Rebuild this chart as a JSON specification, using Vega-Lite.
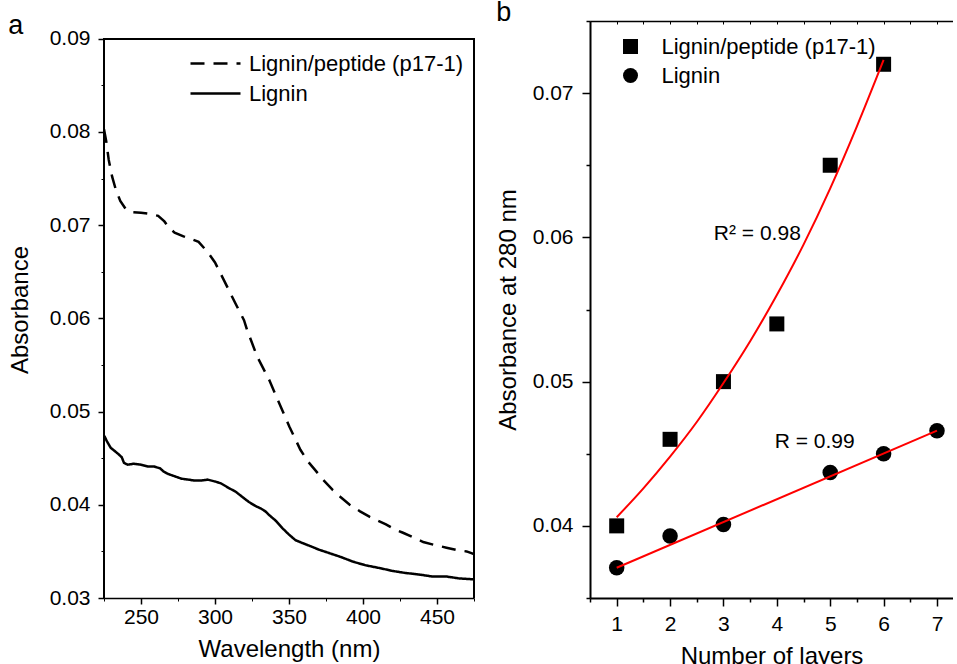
{
  "$schema": "https://vega.github.io/schema/vega-lite/v6.json",
  "padding": {"left": 8, "top": -1, "right": 0, "bottom": -4},
  "background": "white",
  "spacing": 21,
  "bounds": "full",
  "resolve": {
    "scale": {"shape": "independent", "strokeDash": "independent"},
    "legend": {"shape": "independent", "strokeDash": "independent"}
  },
  "config": {
    "font": "Liberation Sans",
    "view": {"stroke": null},
    "axis": {
      "labelFont": "Liberation Sans", "titleFont": "Liberation Sans",
      "labelColor": "black", "titleColor": "black",
      "domainColor": "black", "tickColor": "black",
      "grid": false, "titleFontWeight": "normal",
      "labelFontSize": 21, "titleFontSize": 24,
      "labelFlush": false, "labelOverlap": false
    },
    "legend": {
      "labelFont": "Liberation Sans", "labelColor": "black", "labelFontSize": 22,
      "labelLimit": 500, "padding": 0, "rowPadding": 7
    },
    "title": {"font": "Liberation Sans", "fontWeight": "normal", "fontSize": 27, "color": "black", "anchor": "start", "frame": "bounds"}
  },
  "datasets": {
    "spectra": [
      {"wavelength": 225, "absorbance": 0.0803, "sample": "Lignin/peptide (p17-1)"},
      {"wavelength": 226.5, "absorbance": 0.0790, "sample": "Lignin/peptide (p17-1)"},
      {"wavelength": 228.2, "absorbance": 0.0770, "sample": "Lignin/peptide (p17-1)"},
      {"wavelength": 230.5, "absorbance": 0.0752, "sample": "Lignin/peptide (p17-1)"},
      {"wavelength": 233, "absorbance": 0.0738, "sample": "Lignin/peptide (p17-1)"},
      {"wavelength": 236, "absorbance": 0.0726, "sample": "Lignin/peptide (p17-1)"},
      {"wavelength": 239.8, "absorbance": 0.0717, "sample": "Lignin/peptide (p17-1)"},
      {"wavelength": 244, "absorbance": 0.0714, "sample": "Lignin/peptide (p17-1)"},
      {"wavelength": 250, "absorbance": 0.07133, "sample": "Lignin/peptide (p17-1)"},
      {"wavelength": 256, "absorbance": 0.0712, "sample": "Lignin/peptide (p17-1)"},
      {"wavelength": 261.6, "absorbance": 0.0710, "sample": "Lignin/peptide (p17-1)"},
      {"wavelength": 265.8, "absorbance": 0.0704, "sample": "Lignin/peptide (p17-1)"},
      {"wavelength": 269, "absorbance": 0.0697, "sample": "Lignin/peptide (p17-1)"},
      {"wavelength": 272.7, "absorbance": 0.0692, "sample": "Lignin/peptide (p17-1)"},
      {"wavelength": 278.7, "absorbance": 0.0688, "sample": "Lignin/peptide (p17-1)"},
      {"wavelength": 284, "absorbance": 0.0685, "sample": "Lignin/peptide (p17-1)"},
      {"wavelength": 288.9, "absorbance": 0.0682, "sample": "Lignin/peptide (p17-1)"},
      {"wavelength": 292.3, "absorbance": 0.0676, "sample": "Lignin/peptide (p17-1)"},
      {"wavelength": 296, "absorbance": 0.0669, "sample": "Lignin/peptide (p17-1)"},
      {"wavelength": 300, "absorbance": 0.0660, "sample": "Lignin/peptide (p17-1)"},
      {"wavelength": 306, "absorbance": 0.0641, "sample": "Lignin/peptide (p17-1)"},
      {"wavelength": 313.5, "absorbance": 0.0617, "sample": "Lignin/peptide (p17-1)"},
      {"wavelength": 319.6, "absorbance": 0.0598, "sample": "Lignin/peptide (p17-1)"},
      {"wavelength": 321.6, "absorbance": 0.0588, "sample": "Lignin/peptide (p17-1)"},
      {"wavelength": 328.5, "absorbance": 0.0559, "sample": "Lignin/peptide (p17-1)"},
      {"wavelength": 336.6, "absorbance": 0.0534, "sample": "Lignin/peptide (p17-1)"},
      {"wavelength": 343.4, "absorbance": 0.0509, "sample": "Lignin/peptide (p17-1)"},
      {"wavelength": 350.2, "absorbance": 0.0484, "sample": "Lignin/peptide (p17-1)"},
      {"wavelength": 357.7, "absorbance": 0.0459, "sample": "Lignin/peptide (p17-1)"},
      {"wavelength": 363, "absorbance": 0.0446, "sample": "Lignin/peptide (p17-1)"},
      {"wavelength": 367.3, "absorbance": 0.0438, "sample": "Lignin/peptide (p17-1)"},
      {"wavelength": 373, "absorbance": 0.0427, "sample": "Lignin/peptide (p17-1)"},
      {"wavelength": 379.5, "absorbance": 0.0416, "sample": "Lignin/peptide (p17-1)"},
      {"wavelength": 385, "absorbance": 0.0408, "sample": "Lignin/peptide (p17-1)"},
      {"wavelength": 391, "absorbance": 0.0400, "sample": "Lignin/peptide (p17-1)"},
      {"wavelength": 398, "absorbance": 0.0393, "sample": "Lignin/peptide (p17-1)"},
      {"wavelength": 404.6, "absorbance": 0.0387, "sample": "Lignin/peptide (p17-1)"},
      {"wavelength": 410, "absorbance": 0.0383, "sample": "Lignin/peptide (p17-1)"},
      {"wavelength": 415.5, "absorbance": 0.0379, "sample": "Lignin/peptide (p17-1)"},
      {"wavelength": 421, "absorbance": 0.0374, "sample": "Lignin/peptide (p17-1)"},
      {"wavelength": 427, "absorbance": 0.0370, "sample": "Lignin/peptide (p17-1)"},
      {"wavelength": 434, "absorbance": 0.0365, "sample": "Lignin/peptide (p17-1)"},
      {"wavelength": 440.7, "absorbance": 0.0360, "sample": "Lignin/peptide (p17-1)"},
      {"wavelength": 448, "absorbance": 0.0357, "sample": "Lignin/peptide (p17-1)"},
      {"wavelength": 456.4, "absorbance": 0.0354, "sample": "Lignin/peptide (p17-1)"},
      {"wavelength": 465, "absorbance": 0.0351, "sample": "Lignin/peptide (p17-1)"},
      {"wavelength": 470, "absorbance": 0.0350, "sample": "Lignin/peptide (p17-1)"},
      {"wavelength": 475, "absorbance": 0.0347, "sample": "Lignin/peptide (p17-1)"},
      {"wavelength": 225, "absorbance": 0.0474, "sample": "Lignin"},
      {"wavelength": 225.5, "absorbance": 0.0473, "sample": "Lignin"},
      {"wavelength": 227, "absorbance": 0.0468, "sample": "Lignin"},
      {"wavelength": 229.6, "absorbance": 0.0461, "sample": "Lignin"},
      {"wavelength": 232, "absorbance": 0.0458, "sample": "Lignin"},
      {"wavelength": 235, "absorbance": 0.0454, "sample": "Lignin"},
      {"wavelength": 237, "absorbance": 0.0451, "sample": "Lignin"},
      {"wavelength": 238.5, "absorbance": 0.0445, "sample": "Lignin"},
      {"wavelength": 241, "absorbance": 0.0443, "sample": "Lignin"},
      {"wavelength": 245, "absorbance": 0.0444, "sample": "Lignin"},
      {"wavelength": 250, "absorbance": 0.0443, "sample": "Lignin"},
      {"wavelength": 255, "absorbance": 0.0441, "sample": "Lignin"},
      {"wavelength": 259, "absorbance": 0.0441, "sample": "Lignin"},
      {"wavelength": 263, "absorbance": 0.0439, "sample": "Lignin"},
      {"wavelength": 265, "absorbance": 0.0436, "sample": "Lignin"},
      {"wavelength": 268.4, "absorbance": 0.0433, "sample": "Lignin"},
      {"wavelength": 272, "absorbance": 0.0431, "sample": "Lignin"},
      {"wavelength": 277.3, "absorbance": 0.0428, "sample": "Lignin"},
      {"wavelength": 282, "absorbance": 0.0427, "sample": "Lignin"},
      {"wavelength": 286, "absorbance": 0.0426, "sample": "Lignin"},
      {"wavelength": 290.9, "absorbance": 0.0426, "sample": "Lignin"},
      {"wavelength": 295, "absorbance": 0.0427, "sample": "Lignin"},
      {"wavelength": 300, "absorbance": 0.0425, "sample": "Lignin"},
      {"wavelength": 304, "absorbance": 0.0423, "sample": "Lignin"},
      {"wavelength": 309.3, "absorbance": 0.0418, "sample": "Lignin"},
      {"wavelength": 314, "absorbance": 0.0414, "sample": "Lignin"},
      {"wavelength": 318, "absorbance": 0.0409, "sample": "Lignin"},
      {"wavelength": 322.9, "absorbance": 0.0403, "sample": "Lignin"},
      {"wavelength": 327, "absorbance": 0.0399, "sample": "Lignin"},
      {"wavelength": 331, "absorbance": 0.0396, "sample": "Lignin"},
      {"wavelength": 334, "absorbance": 0.0393, "sample": "Lignin"},
      {"wavelength": 336.6, "absorbance": 0.0389, "sample": "Lignin"},
      {"wavelength": 341, "absorbance": 0.0383, "sample": "Lignin"},
      {"wavelength": 345.5, "absorbance": 0.0375, "sample": "Lignin"},
      {"wavelength": 350, "absorbance": 0.0368, "sample": "Lignin"},
      {"wavelength": 354.4, "absorbance": 0.0362, "sample": "Lignin"},
      {"wavelength": 359, "absorbance": 0.0359, "sample": "Lignin"},
      {"wavelength": 363.9, "absorbance": 0.0356, "sample": "Lignin"},
      {"wavelength": 370, "absorbance": 0.0352, "sample": "Lignin"},
      {"wavelength": 377.5, "absorbance": 0.0348, "sample": "Lignin"},
      {"wavelength": 385, "absorbance": 0.0344, "sample": "Lignin"},
      {"wavelength": 393.2, "absorbance": 0.0339, "sample": "Lignin"},
      {"wavelength": 402, "absorbance": 0.0335, "sample": "Lignin"},
      {"wavelength": 411.6, "absorbance": 0.0332, "sample": "Lignin"},
      {"wavelength": 420, "absorbance": 0.0329, "sample": "Lignin"},
      {"wavelength": 428, "absorbance": 0.0327, "sample": "Lignin"},
      {"wavelength": 438.8, "absorbance": 0.0325, "sample": "Lignin"},
      {"wavelength": 447, "absorbance": 0.0323, "sample": "Lignin"},
      {"wavelength": 456.5, "absorbance": 0.0323, "sample": "Lignin"},
      {"wavelength": 465, "absorbance": 0.0321, "sample": "Lignin"},
      {"wavelength": 474.8, "absorbance": 0.0320, "sample": "Lignin"}
    ],
    "layerPoints": [
      {"layers": 1, "absorbance": 0.0400, "sample": "Lignin/peptide (p17-1)"},
      {"layers": 2, "absorbance": 0.0460, "sample": "Lignin/peptide (p17-1)"},
      {"layers": 3, "absorbance": 0.0500, "sample": "Lignin/peptide (p17-1)"},
      {"layers": 4, "absorbance": 0.0540, "sample": "Lignin/peptide (p17-1)"},
      {"layers": 5, "absorbance": 0.0650, "sample": "Lignin/peptide (p17-1)"},
      {"layers": 6, "absorbance": 0.0720, "sample": "Lignin/peptide (p17-1)"},
      {"layers": 1, "absorbance": 0.0371, "sample": "Lignin"},
      {"layers": 2, "absorbance": 0.0393, "sample": "Lignin"},
      {"layers": 3, "absorbance": 0.0401, "sample": "Lignin"},
      {"layers": 5, "absorbance": 0.0437, "sample": "Lignin"},
      {"layers": 6, "absorbance": 0.0450, "sample": "Lignin"},
      {"layers": 7, "absorbance": 0.0466, "sample": "Lignin"}
    ],
    "fits": [
      {"layers": 1.0, "absorbance": 0.0406, "fit": "exponential"},
      {"layers": 1.5, "absorbance": 0.0426, "fit": "exponential"},
      {"layers": 2.0, "absorbance": 0.0448, "fit": "exponential"},
      {"layers": 2.5, "absorbance": 0.0472, "fit": "exponential"},
      {"layers": 3.0, "absorbance": 0.0499, "fit": "exponential"},
      {"layers": 3.5, "absorbance": 0.0528, "fit": "exponential"},
      {"layers": 4.0, "absorbance": 0.0560, "fit": "exponential"},
      {"layers": 4.5, "absorbance": 0.0595, "fit": "exponential"},
      {"layers": 5.0, "absorbance": 0.0634, "fit": "exponential"},
      {"layers": 5.5, "absorbance": 0.0677, "fit": "exponential"},
      {"layers": 6.0, "absorbance": 0.0723, "fit": "exponential"},
      {"layers": 1.0, "absorbance": 0.0371, "fit": "linear"},
      {"layers": 7.0, "absorbance": 0.0466, "fit": "linear"}
    ],
    "notes": [
      {"layers": 2.82, "absorbance": 0.0602, "label": "R² = 0.98"},
      {"layers": 3.96, "absorbance": 0.0458, "label": "R = 0.99"}
    ]
  },
  "hconcat": [
    {
      "width": 370,
      "height": 577,
      "title": {"text": "a", "offset": -19},
      "data": {"name": "spectra"},
      "layer": [
        {
          "transform": [{"filter": "datum.sample === 'Lignin/peptide (p17-1)'"}],
          "mark": {"type": "line", "color": "black", "strokeWidth": 2.5, "clip": true},
          "encoding": {
            "x": {"field": "wavelength", "type": "quantitative",
                  "scale": {"domain": [225, 475], "nice": false, "zero": false},
                  "axis": {"orient": "bottom", "values": [250, 300, 350, 400, 450], "tickSize": 6, "tickWidth": 1.5, "domainWidth": 1.5, "labelPadding": 2, "title": "Wavelength (nm)", "titlePadding": 10}},
            "y": {"field": "absorbance", "type": "quantitative",
                  "scale": {"domain": [0.03, 0.0919], "nice": false, "zero": false},
                  "axis": {"orient": "left", "values": [0.03, 0.04, 0.05, 0.06, 0.07, 0.08, 0.09], "format": ".2f", "tickSize": 6, "tickWidth": 1.5, "domain": false, "labelPadding": 8, "title": "Absorbance", "titlePadding": 17}},
            "strokeDash": {"datum": "Lignin/peptide (p17-1)",
                  "scale": {"domain": ["Lignin/peptide (p17-1)", "Lignin"], "range": [[14, 9], [1, 0]]},
                  "legend": {"orient": "none", "legendX": 100, "legendY": 31, "title": null, "symbolType": "M-2.5,0H2.5", "symbolSize": 400, "symbolStrokeWidth": 2.5, "symbolStrokeColor": "black", "symbolFillColor": "transparent", "labelOffset": 22}}
          }
        },
        {
          "transform": [{"filter": "datum.sample === 'Lignin'"}],
          "mark": {"type": "line", "color": "black", "strokeWidth": 2.5, "clip": true},
          "encoding": {
            "x": {"field": "wavelength", "type": "quantitative",
                  "scale": {"domain": [225, 475], "nice": false, "zero": false},
                  "axis": {"orient": "bottom", "values": [225, 250, 275, 300, 325, 350, 375, 400, 425, 450, 475], "tickSize": 3, "tickWidth": 1, "labels": false, "domain": false, "title": null}},
            "y": {"field": "absorbance", "type": "quantitative",
                  "scale": {"domain": [0.03, 0.0919], "nice": false, "zero": false},
                  "axis": {"orient": "left", "values": [0.03, 0.035, 0.04, 0.045, 0.05, 0.055, 0.06, 0.065, 0.07, 0.075, 0.08, 0.085, 0.09], "tickSize": 3, "tickWidth": 1, "labels": false, "domain": false, "title": null}},
            "strokeDash": {"datum": "Lignin",
                  "scale": {"domain": ["Lignin/peptide (p17-1)", "Lignin"], "range": [[14, 9], [1, 0]]},
                  "legend": {"orient": "none", "legendX": 100, "legendY": 31, "title": null, "symbolType": "M-2.5,0H2.5", "symbolSize": 400, "symbolStrokeWidth": 2.5, "symbolStrokeColor": "black", "symbolFillColor": "transparent", "labelOffset": 22}}
          }
        },
        {
          "mark": {"type": "rule", "color": "black", "strokeWidth": 1.5},
          "encoding": {
            "x": {"datum": 225, "type": "quantitative", "scale": {"domain": [225, 475], "nice": false, "zero": false}, "axis": null},
            "y": {"datum": 0.03, "type": "quantitative", "scale": {"domain": [0.03, 0.0919], "nice": false, "zero": false}, "axis": null},
            "y2": {"datum": 0.09}
          }
        },
        {
          "mark": {"type": "rule", "color": "black", "strokeWidth": 1.5},
          "encoding": {
            "x": {"datum": 475, "type": "quantitative", "scale": {"domain": [225, 475], "nice": false, "zero": false}, "axis": null},
            "y": {"datum": 0.03, "type": "quantitative", "scale": {"domain": [0.03, 0.0919], "nice": false, "zero": false}, "axis": null},
            "y2": {"datum": 0.09}
          }
        },
        {
          "mark": {"type": "rule", "color": "black", "strokeWidth": 1.5},
          "encoding": {
            "x": {"datum": 225, "type": "quantitative", "scale": {"domain": [225, 475], "nice": false, "zero": false}, "axis": null},
            "x2": {"datum": 475},
            "y": {"datum": 0.09, "type": "quantitative", "scale": {"domain": [0.03, 0.0919], "nice": false, "zero": false}, "axis": null}
          }
        }
      ],
      "resolve": {"axis": {"x": "independent", "y": "independent"}}
    },
    {
      "width": 363,
      "height": 577,
      "title": {"text": "b", "offset": -7},
      "layer": [
        {
          "data": {"name": "layerPoints"},
          "transform": [{"filter": "datum.sample === 'Lignin/peptide (p17-1)'"}],
          "mark": {"type": "point", "filled": true, "color": "black", "opacity": 1, "size": 225},
          "encoding": {
            "x": {"field": "layers", "type": "quantitative",
                  "scale": {"domain": [0.5, 7.3], "nice": false, "zero": false},
                  "axis": {"orient": "bottom", "values": [1, 2, 3, 4, 5, 6, 7], "tickSize": 8, "tickWidth": 1.5, "domainWidth": 2, "labelPadding": 7, "title": "Number of layers", "titlePadding": 10}},
            "y": {"field": "absorbance", "type": "quantitative",
                  "scale": {"domain": [0.035, 0.075], "nice": false, "zero": false},
                  "axis": {"orient": "left", "values": [0.04, 0.05, 0.06, 0.07], "format": ".2f", "tickSize": 8, "tickWidth": 1.5, "domainWidth": 2, "labelPadding": 9, "title": "Absorbance at 280 nm", "titlePadding": 12}},
            "shape": {"datum": "Lignin/peptide (p17-1)",
                  "scale": {"domain": ["Lignin/peptide (p17-1)", "Lignin"], "range": ["square", "circle"]},
                  "legend": {"orient": "none", "legendX": 29.5, "legendY": 14.5, "title": null, "symbolSize": 225, "symbolFillColor": "black", "symbolStrokeColor": "black", "symbolStrokeWidth": 0, "labelOffset": 20}}
          }
        },
        {
          "data": {"name": "layerPoints"},
          "transform": [{"filter": "datum.sample === 'Lignin'"}],
          "mark": {"type": "point", "filled": true, "color": "black", "opacity": 1, "size": 240},
          "encoding": {
            "x": {"field": "layers", "type": "quantitative",
                  "scale": {"domain": [0.5, 7.3], "nice": false, "zero": false},
                  "axis": {"orient": "bottom", "values": [0.5, 1.5, 2.5, 3.5, 4.5, 5.5, 6.5], "tickSize": 4, "tickWidth": 1.5, "labels": false, "domain": false, "title": null}},
            "y": {"field": "absorbance", "type": "quantitative",
                  "scale": {"domain": [0.035, 0.075], "nice": false, "zero": false},
                  "axis": {"orient": "left", "values": [0.035, 0.045, 0.055, 0.065, 0.075], "tickSize": 4, "tickWidth": 1.5, "labels": false, "domain": false, "title": null}},
            "shape": {"datum": "Lignin",
                  "scale": {"domain": ["Lignin/peptide (p17-1)", "Lignin"], "range": ["square", "circle"]},
                  "legend": {"orient": "none", "legendX": 29.5, "legendY": 14.5, "title": null, "symbolSize": 225, "symbolFillColor": "black", "symbolStrokeColor": "black", "symbolStrokeWidth": 0, "labelOffset": 20}}
          }
        },
        {
          "data": {"name": "fits"},
          "transform": [{"filter": "datum.fit === 'exponential'"}],
          "mark": {"type": "line", "color": "#ff0000", "strokeWidth": 2, "interpolate": "monotone"},
          "encoding": {
            "x": {"field": "layers", "type": "quantitative",
                  "scale": {"domain": [0.5, 7.3], "nice": false, "zero": false},
                  "axis": {"orient": "top", "values": [0.5, 1, 1.5, 2, 2.5, 3, 3.5, 4, 4.5, 5, 5.5, 6, 6.5, 7], "tickSize": -3, "tickWidth": 1, "labels": false, "domain": true, "domainWidth": 1.5, "title": null}},
            "y": {"field": "absorbance", "type": "quantitative",
                  "scale": {"domain": [0.035, 0.075], "nice": false, "zero": false}, "axis": null}
          }
        },
        {
          "data": {"name": "fits"},
          "transform": [{"filter": "datum.fit === 'linear'"}],
          "mark": {"type": "line", "color": "#ff0000", "strokeWidth": 2},
          "encoding": {
            "x": {"field": "layers", "type": "quantitative", "scale": {"domain": [0.5, 7.3], "nice": false, "zero": false}, "axis": null},
            "y": {"field": "absorbance", "type": "quantitative", "scale": {"domain": [0.035, 0.075], "nice": false, "zero": false}, "axis": null}
          }
        },
        {
          "data": {"name": "notes"},
          "mark": {"type": "text", "align": "left", "baseline": "middle", "fontSize": 21, "font": "Liberation Sans", "color": "black"},
          "encoding": {
            "x": {"field": "layers", "type": "quantitative", "scale": {"domain": [0.5, 7.3], "nice": false, "zero": false}, "axis": null},
            "y": {"field": "absorbance", "type": "quantitative", "scale": {"domain": [0.035, 0.075], "nice": false, "zero": false}, "axis": null},
            "text": {"field": "label"}
          }
        }
      ],
      "resolve": {"axis": {"x": "independent", "y": "independent"}}
    }
  ]
}
